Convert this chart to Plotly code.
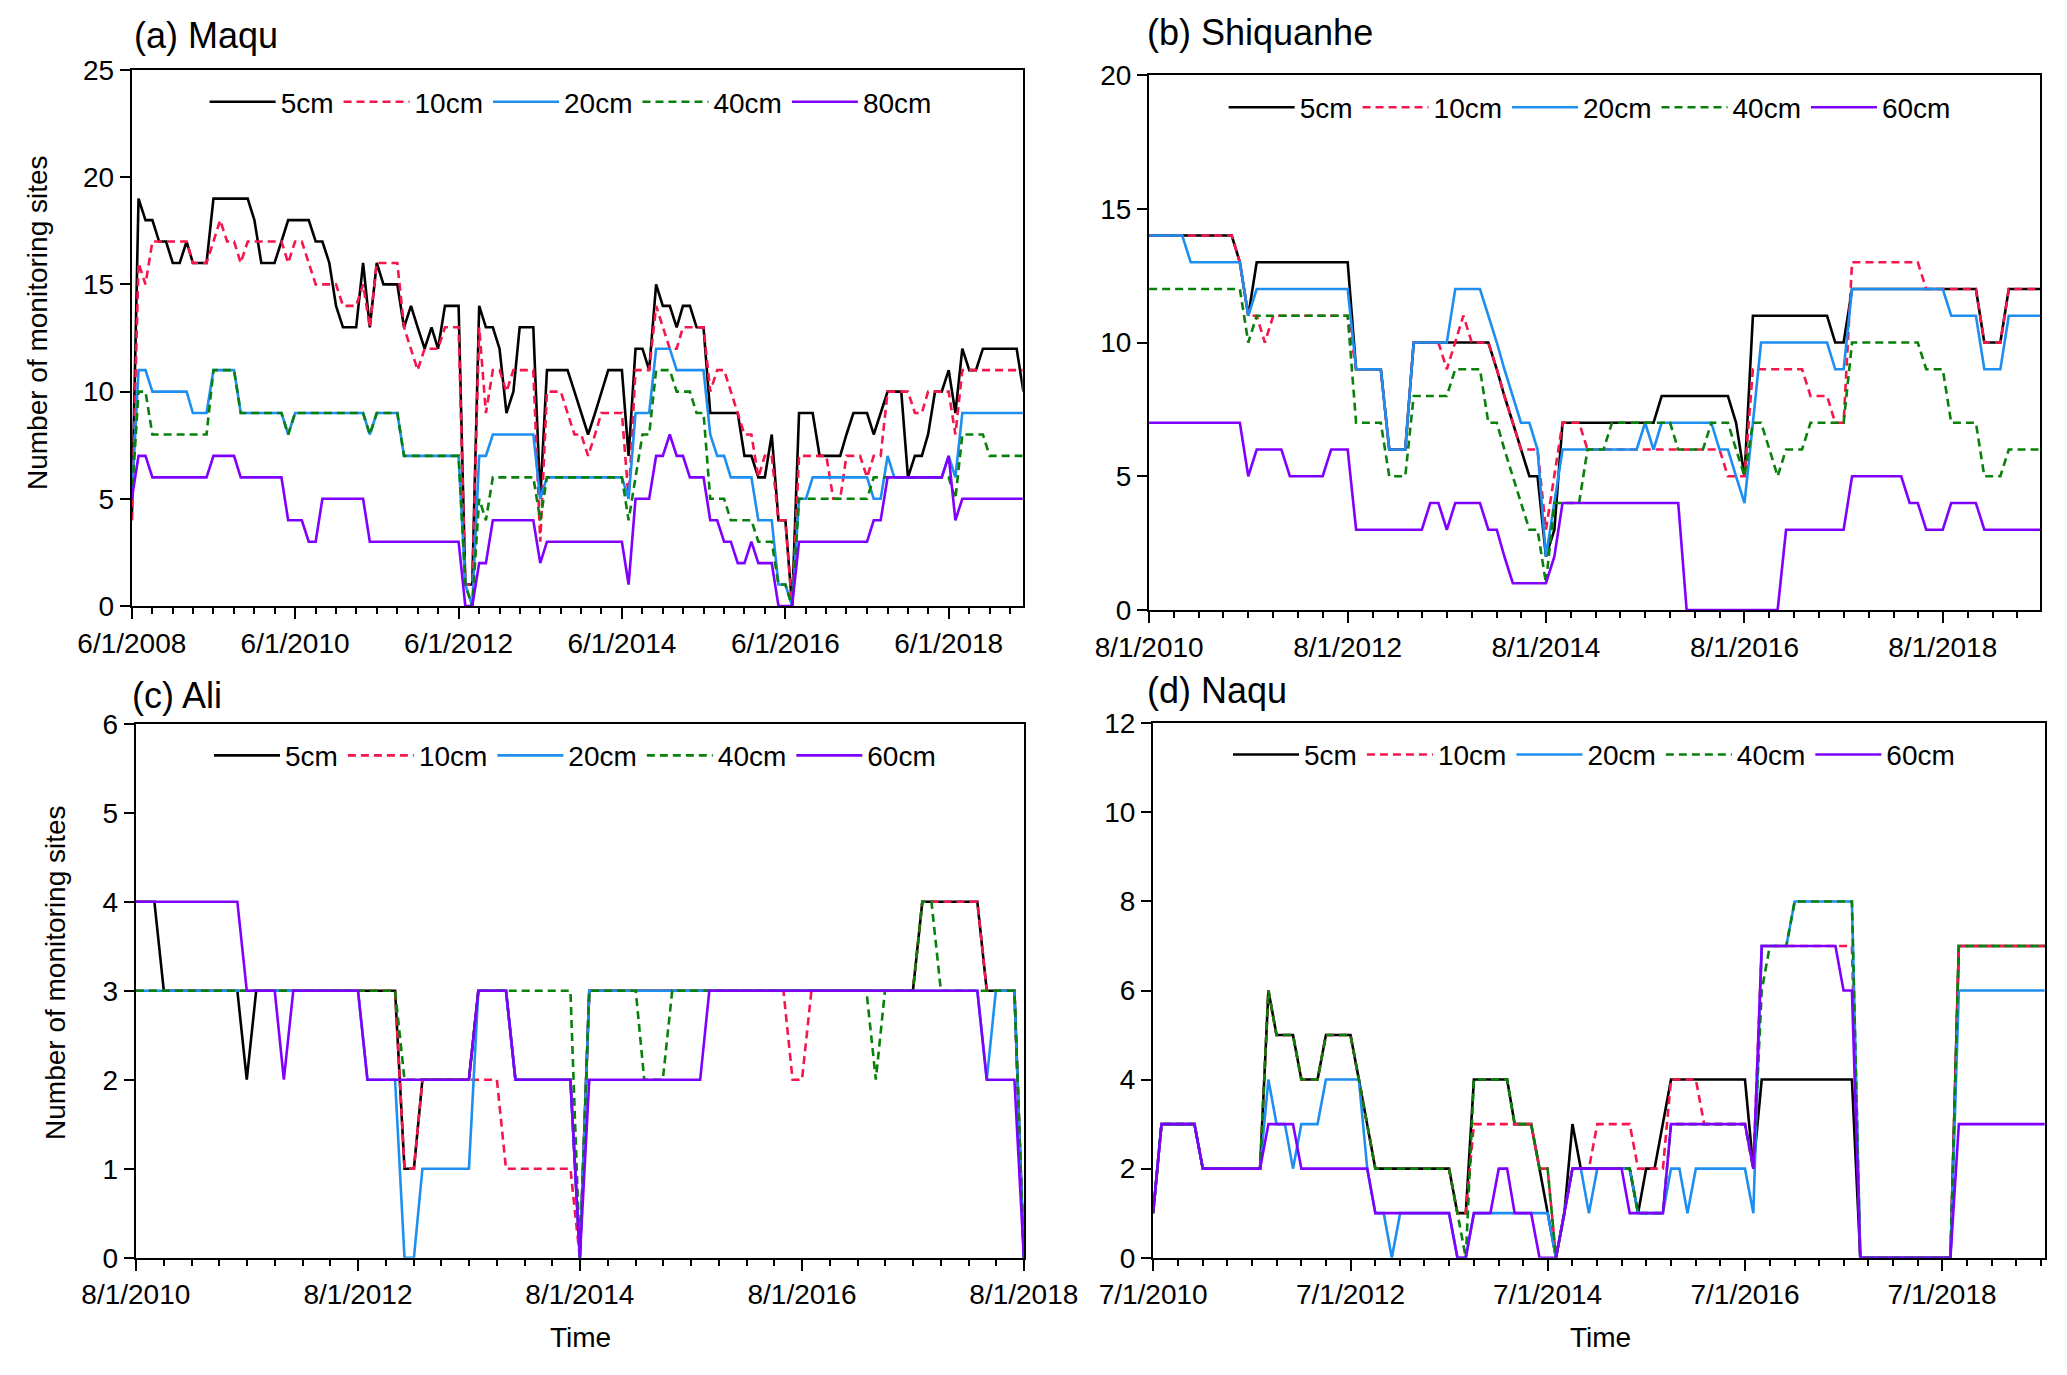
import pandas as pd
import plotly.graph_objects as go

FONT = "Arial, Liberation Sans, sans-serif"

# ---------------- data ----------------
depth_labels_a = ["5cm", "10cm", "20cm", "40cm", "80cm"]
depth_labels_other = ["5cm", "10cm", "20cm", "40cm", "60cm"]

maqu_start = "2008-06-01"
maqu_5cm = [4, 19, 18, 18, 17, 17, 16, 16, 17, 16, 16, 16,
            19, 19, 19, 19, 19, 19, 18, 16, 16, 16, 17, 18,
            18, 18, 18, 17, 17, 16, 14, 13, 13, 13, 16, 13,
            16, 15, 15, 15, 13, 14, 13, 12, 13, 12, 14, 14,
            14, 1, 1, 14, 13, 13, 12, 9, 10, 13, 13, 13,
            5, 11, 11, 11, 11, 10, 9, 8, 9, 10, 11, 11,
            11, 7, 12, 12, 11, 15, 14, 14, 13, 14, 14, 13,
            13, 9, 9, 9, 9, 9, 7, 7, 6, 6, 8, 4,
            4, 0, 9, 9, 9, 7, 7, 7, 7, 8, 9, 9,
            9, 8, 9, 10, 10, 10, 6, 7, 7, 8, 10, 10,
            11, 9, 12, 11, 11, 12, 12, 12, 12, 12, 12, 10]
maqu_10cm = [4, 16, 15, 17, 17, 17, 17, 17, 17, 16, 16, 16,
             17, 18, 17, 17, 16, 17, 17, 17, 17, 17, 17, 16,
             17, 17, 16, 15, 15, 15, 15, 14, 14, 14, 15, 13,
             16, 16, 16, 16, 13, 12, 11, 12, 12, 12, 13, 13,
             13, 1, 1, 13, 9, 11, 11, 10, 11, 11, 11, 11,
             3, 10, 10, 10, 9, 8, 8, 7, 8, 9, 9, 9,
             9, 5, 11, 11, 11, 14, 13, 12, 12, 13, 13, 13,
             13, 10, 11, 11, 10, 9, 8, 8, 6, 7, 7, 4,
             4, 0, 7, 7, 7, 7, 7, 5, 5, 7, 7, 7,
             6, 7, 7, 10, 10, 10, 10, 9, 9, 10, 10, 10,
             10, 8, 11, 11, 11, 11, 11, 11, 11, 11, 11, 11]
maqu_20cm = [5, 11, 11, 10, 10, 10, 10, 10, 10, 9, 9, 9,
             11, 11, 11, 11, 9, 9, 9, 9, 9, 9, 9, 8,
             9, 9, 9, 9, 9, 9, 9, 9, 9, 9, 9, 8,
             9, 9, 9, 9, 7, 7, 7, 7, 7, 7, 7, 7,
             7, 1, 0, 7, 7, 8, 8, 8, 8, 8, 8, 8,
             5, 6, 6, 6, 6, 6, 6, 6, 6, 6, 6, 6,
             6, 5, 9, 9, 9, 12, 12, 12, 11, 11, 11, 11,
             11, 8, 7, 7, 6, 6, 6, 6, 4, 4, 4, 1,
             1, 0, 5, 5, 6, 6, 6, 6, 6, 6, 6, 6,
             6, 5, 5, 7, 6, 6, 6, 6, 6, 6, 6, 6,
             7, 6, 9, 9, 9, 9, 9, 9, 9, 9, 9, 9]
maqu_40cm = [5, 10, 10, 8, 8, 8, 8, 8, 8, 8, 8, 8,
             11, 11, 11, 11, 9, 9, 9, 9, 9, 9, 9, 8,
             9, 9, 9, 9, 9, 9, 9, 9, 9, 9, 9, 8,
             9, 9, 9, 9, 7, 7, 7, 7, 7, 7, 7, 7,
             7, 1, 0, 5, 4, 6, 6, 6, 6, 6, 6, 6,
             4, 6, 6, 6, 6, 6, 6, 6, 6, 6, 6, 6,
             6, 4, 6, 8, 8, 11, 11, 11, 10, 10, 10, 9,
             9, 5, 5, 5, 4, 4, 4, 4, 3, 3, 3, 1,
             1, 0, 5, 5, 5, 5, 5, 5, 5, 5, 5, 5,
             5, 6, 6, 6, 6, 6, 6, 6, 6, 6, 6, 6,
             6, 5, 8, 8, 8, 8, 7, 7, 7, 7, 7, 7]
maqu_80cm = [5, 7, 7, 6, 6, 6, 6, 6, 6, 6, 6, 6,
             7, 7, 7, 7, 6, 6, 6, 6, 6, 6, 6, 4,
             4, 4, 3, 3, 5, 5, 5, 5, 5, 5, 5, 3,
             3, 3, 3, 3, 3, 3, 3, 3, 3, 3, 3, 3,
             3, 0, 0, 2, 2, 4, 4, 4, 4, 4, 4, 4,
             2, 3, 3, 3, 3, 3, 3, 3, 3, 3, 3, 3,
             3, 1, 5, 5, 5, 7, 7, 8, 7, 7, 6, 6,
             6, 4, 4, 3, 3, 2, 2, 3, 2, 2, 2, 0,
             0, 0, 3, 3, 3, 3, 3, 3, 3, 3, 3, 3,
             3, 4, 4, 6, 6, 6, 6, 6, 6, 6, 6, 6,
             7, 4, 5, 5, 5, 5, 5, 5, 5, 5, 5, 5]

shiq_start = "2010-08-01"
shiq_5cm = [14, 14, 14, 14, 14, 14, 14, 14, 14, 14, 14, 13,
            11, 13, 13, 13, 13, 13, 13, 13, 13, 13, 13, 13,
            13, 9, 9, 9, 9, 6, 6, 6, 10, 10, 10, 10,
            10, 10, 10, 10, 10, 10, 9, 8, 7, 6, 5, 5,
            2, 3, 7, 7, 7, 7, 7, 7, 7, 7, 7, 7,
            7, 7, 8, 8, 8, 8, 8, 8, 8, 8, 8, 7,
            5, 11, 11, 11, 11, 11, 11, 11, 11, 11, 11, 10,
            10, 12, 12, 12, 12, 12, 12, 12, 12, 12, 12, 12,
            12, 12, 12, 12, 12, 10, 10, 10, 12, 12, 12, 12,
            12]
shiq_10cm = [14, 14, 14, 14, 14, 14, 14, 14, 14, 14, 14, 13,
             11, 11, 10, 11, 11, 11, 11, 11, 11, 11, 11, 11,
             11, 9, 9, 9, 9, 6, 6, 6, 10, 10, 10, 10,
             9, 10, 11, 10, 10, 10, 9, 8, 7, 6, 6, 6,
             3, 5, 7, 7, 7, 6, 6, 6, 6, 6, 6, 6,
             6, 6, 6, 6, 6, 6, 6, 6, 6, 6, 5, 5,
             5, 9, 9, 9, 9, 9, 9, 9, 8, 8, 8, 7,
             7, 13, 13, 13, 13, 13, 13, 13, 13, 13, 12, 12,
             12, 12, 12, 12, 12, 10, 10, 10, 12, 12, 12, 12,
             12]
shiq_20cm = [14, 14, 14, 14, 14, 13, 13, 13, 13, 13, 13, 13,
             11, 12, 12, 12, 12, 12, 12, 12, 12, 12, 12, 12,
             12, 9, 9, 9, 9, 6, 6, 6, 10, 10, 10, 10,
             10, 12, 12, 12, 12, 11, 10, 9, 8, 7, 7, 6,
             2, 4, 6, 6, 6, 6, 6, 6, 6, 6, 6, 6,
             7, 6, 7, 7, 7, 7, 7, 7, 7, 6, 6, 5,
             4, 7, 10, 10, 10, 10, 10, 10, 10, 10, 10, 9,
             9, 12, 12, 12, 12, 12, 12, 12, 12, 12, 12, 12,
             12, 11, 11, 11, 11, 9, 9, 9, 11, 11, 11, 11,
             11]
shiq_40cm = [12, 12, 12, 12, 12, 12, 12, 12, 12, 12, 12, 12,
             10, 11, 11, 11, 11, 11, 11, 11, 11, 11, 11, 11,
             11, 7, 7, 7, 7, 5, 5, 5, 8, 8, 8, 8,
             8, 9, 9, 9, 9, 7, 7, 6, 5, 4, 3, 3,
             1, 4, 4, 4, 4, 6, 6, 6, 7, 7, 7, 7,
             7, 7, 7, 7, 6, 6, 6, 6, 7, 7, 7, 6,
             5, 7, 7, 6, 5, 6, 6, 6, 7, 7, 7, 7,
             7, 10, 10, 10, 10, 10, 10, 10, 10, 10, 9, 9,
             9, 7, 7, 7, 7, 5, 5, 5, 6, 6, 6, 6,
             6]
shiq_60cm = [7, 7, 7, 7, 7, 7, 7, 7, 7, 7, 7, 7,
             5, 6, 6, 6, 6, 5, 5, 5, 5, 5, 6, 6,
             6, 3, 3, 3, 3, 3, 3, 3, 3, 3, 4, 4,
             3, 4, 4, 4, 4, 3, 3, 2, 1, 1, 1, 1,
             1, 2, 4, 4, 4, 4, 4, 4, 4, 4, 4, 4,
             4, 4, 4, 4, 4, 0, 0, 0, 0, 0, 0, 0,
             0, 0, 0, 0, 0, 3, 3, 3, 3, 3, 3, 3,
             3, 5, 5, 5, 5, 5, 5, 5, 4, 4, 3, 3,
             3, 4, 4, 4, 4, 3, 3, 3, 3, 3, 3, 3,
             3]

ali_start = "2010-08-01"
ali_5cm = [4, 4, 4, 3, 3, 3, 3, 3, 3, 3, 3, 3,
           2, 3, 3, 3, 3, 3, 3, 3, 3, 3, 3, 3,
           3, 3, 3, 3, 3, 1, 1, 2, 2, 2, 2, 2,
           2, 3, 3, 3, 3, 2, 2, 2, 2, 2, 2, 2,
           0, 3, 3, 3, 3, 3, 3, 3, 3, 3, 3, 3,
           3, 3, 3, 3, 3, 3, 3, 3, 3, 3, 3, 3,
           3, 3, 3, 3, 3, 3, 3, 3, 3, 3, 3, 3,
           3, 4, 4, 4, 4, 4, 4, 4, 3, 3, 3, 3,
           0]
ali_10cm = [3, 3, 3, 3, 3, 3, 3, 3, 3, 3, 3, 3,
            3, 3, 3, 3, 3, 3, 3, 3, 3, 3, 3, 3,
            3, 3, 3, 3, 3, 1, 1, 2, 2, 2, 2, 2,
            2, 2, 2, 2, 1, 1, 1, 1, 1, 1, 1, 1,
            0, 3, 3, 3, 3, 3, 3, 3, 3, 3, 3, 3,
            3, 3, 3, 3, 3, 3, 3, 3, 3, 3, 3, 2,
            2, 3, 3, 3, 3, 3, 3, 3, 3, 3, 3, 3,
            3, 4, 4, 4, 4, 4, 4, 4, 3, 3, 3, 3,
            0]
ali_20cm = [3, 3, 3, 3, 3, 3, 3, 3, 3, 3, 3, 3,
            3, 3, 3, 3, 3, 3, 3, 3, 3, 3, 3, 3,
            3, 2, 2, 2, 2, 0, 0, 1, 1, 1, 1, 1,
            1, 3, 3, 3, 3, 2, 2, 2, 2, 2, 2, 2,
            0, 3, 3, 3, 3, 3, 3, 3, 3, 3, 3, 3,
            3, 3, 3, 3, 3, 3, 3, 3, 3, 3, 3, 3,
            3, 3, 3, 3, 3, 3, 3, 3, 3, 3, 3, 3,
            3, 3, 3, 3, 3, 3, 3, 3, 2, 3, 3, 3,
            0]
ali_40cm = [3, 3, 3, 3, 3, 3, 3, 3, 3, 3, 3, 3,
            3, 3, 3, 3, 3, 3, 3, 3, 3, 3, 3, 3,
            3, 3, 3, 3, 3, 2, 2, 2, 2, 2, 2, 2,
            2, 3, 3, 3, 3, 3, 3, 3, 3, 3, 3, 3,
            0, 3, 3, 3, 3, 3, 3, 2, 2, 2, 3, 3,
            3, 3, 3, 3, 3, 3, 3, 3, 3, 3, 3, 3,
            3, 3, 3, 3, 3, 3, 3, 3, 2, 3, 3, 3,
            3, 4, 4, 3, 3, 3, 3, 3, 3, 3, 3, 3,
            0]
ali_60cm = [4, 4, 4, 4, 4, 4, 4, 4, 4, 4, 4, 4,
            3, 3, 3, 3, 2, 3, 3, 3, 3, 3, 3, 3,
            3, 2, 2, 2, 2, 2, 2, 2, 2, 2, 2, 2,
            2, 3, 3, 3, 3, 2, 2, 2, 2, 2, 2, 2,
            0, 2, 2, 2, 2, 2, 2, 2, 2, 2, 2, 2,
            2, 2, 3, 3, 3, 3, 3, 3, 3, 3, 3, 3,
            3, 3, 3, 3, 3, 3, 3, 3, 3, 3, 3, 3,
            3, 3, 3, 3, 3, 3, 3, 3, 2, 2, 2, 2,
            0]

naqu_start = "2010-07-01"
naqu_5cm = [1, 3, 3, 3, 3, 3, 2, 2, 2, 2, 2, 2,
            2, 2, 6, 5, 5, 5, 4, 4, 4, 5, 5, 5,
            5, 4, 3, 2, 2, 2, 2, 2, 2, 2, 2, 2,
            2, 1, 1, 4, 4, 4, 4, 4, 3, 3, 3, 2,
            1, 0, 1, 3, 2, 2, 2, 2, 2, 2, 2, 1,
            2, 2, 3, 4, 4, 4, 4, 4, 4, 4, 4, 4,
            4, 2, 4, 4, 4, 4, 4, 4, 4, 4, 4, 4,
            4, 4, 0, 0, 0, 0, 0, 0, 0, 0, 0, 0,
            0, 0, 7, 7, 7, 7, 7, 7, 7, 7, 7, 7,
            7, 7]
naqu_10cm = [1, 3, 3, 3, 3, 3, 2, 2, 2, 2, 2, 2,
             2, 2, 6, 5, 5, 5, 4, 4, 4, 5, 5, 5,
             5, 4, 3, 2, 2, 2, 2, 2, 2, 2, 2, 2,
             2, 1, 1, 3, 3, 3, 3, 3, 3, 3, 3, 2,
             2, 0, 1, 2, 2, 2, 3, 3, 3, 3, 3, 2,
             2, 2, 2, 4, 4, 4, 4, 3, 3, 3, 3, 3,
             3, 2, 7, 7, 7, 7, 7, 7, 7, 7, 7, 7,
             7, 7, 0, 0, 0, 0, 0, 0, 0, 0, 0, 0,
             0, 0, 7, 7, 7, 7, 7, 7, 7, 7, 7, 7,
             7, 7]
naqu_20cm = [1, 3, 3, 3, 3, 3, 2, 2, 2, 2, 2, 2,
             2, 2, 4, 3, 3, 2, 3, 3, 3, 4, 4, 4,
             4, 4, 2, 1, 1, 0, 1, 1, 1, 1, 1, 1,
             1, 0, 0, 1, 1, 1, 1, 1, 1, 1, 1, 1,
             1, 0, 1, 2, 2, 1, 2, 2, 2, 2, 2, 1,
             1, 1, 1, 2, 2, 1, 2, 2, 2, 2, 2, 2,
             2, 1, 7, 7, 7, 7, 8, 8, 8, 8, 8, 8,
             8, 8, 0, 0, 0, 0, 0, 0, 0, 0, 0, 0,
             0, 0, 6, 6, 6, 6, 6, 6, 6, 6, 6, 6,
             6, 6]
naqu_40cm = [1, 3, 3, 3, 3, 3, 2, 2, 2, 2, 2, 2,
             2, 2, 6, 5, 5, 5, 4, 4, 4, 5, 5, 5,
             5, 4, 3, 2, 2, 2, 2, 2, 2, 2, 2, 2,
             2, 1, 0, 4, 4, 4, 4, 4, 3, 3, 3, 2,
             2, 0, 1, 2, 2, 2, 2, 2, 2, 2, 2, 1,
             1, 1, 1, 3, 3, 3, 3, 3, 3, 3, 3, 3,
             3, 2, 6, 7, 7, 7, 8, 8, 8, 8, 8, 8,
             8, 8, 0, 0, 0, 0, 0, 0, 0, 0, 0, 0,
             0, 0, 7, 7, 7, 7, 7, 7, 7, 7, 7, 7,
             7, 7]
naqu_60cm = [1, 3, 3, 3, 3, 3, 2, 2, 2, 2, 2, 2,
             2, 2, 3, 3, 3, 3, 2, 2, 2, 2, 2, 2,
             2, 2, 2, 1, 1, 1, 1, 1, 1, 1, 1, 1,
             1, 0, 0, 1, 1, 1, 2, 2, 1, 1, 1, 0,
             0, 0, 1, 2, 2, 2, 2, 2, 2, 2, 1, 1,
             1, 1, 1, 3, 3, 3, 3, 3, 3, 3, 3, 3,
             3, 2, 7, 7, 7, 7, 7, 7, 7, 7, 7, 7,
             6, 6, 0, 0, 0, 0, 0, 0, 0, 0, 0, 0,
             0, 0, 3, 3, 3, 3, 3, 3, 3, 3, 3, 3,
             3, 3]

# axis ticks / labels
maqu_tickvals = ["2008-06-01", "2010-06-01", "2012-06-01", "2014-06-01", "2016-06-01", "2018-06-01"]
maqu_ticktext = ["6/1/2008", "6/1/2010", "6/1/2012", "6/1/2014", "6/1/2016", "6/1/2018"]
shiq_tickvals = ["2010-08-01", "2012-08-01", "2014-08-01", "2016-08-01", "2018-08-01"]
shiq_ticktext = ["8/1/2010", "8/1/2012", "8/1/2014", "8/1/2016", "8/1/2018"]
ali_tickvals = ["2010-08-01", "2012-08-01", "2014-08-01", "2016-08-01", "2018-08-01"]
ali_ticktext = ["8/1/2010", "8/1/2012", "8/1/2014", "8/1/2016", "8/1/2018"]
naqu_tickvals = ["2010-07-01", "2012-07-01", "2014-07-01", "2016-07-01", "2018-07-01"]
naqu_ticktext = ["7/1/2010", "7/1/2012", "7/1/2014", "7/1/2016", "7/1/2018"]

panel_titles = ["(a) Maqu", "(b) Shiquanhe", "(c) Ali", "(d) Naqu"]
y_title = "Number of monitoring sites"
x_title = "Time"

# ---------------- styling ----------------
colors = ["#000000", "#F5164B", "#1E8FF0", "#08800A", "#8000FF"]
dashes = ["solid", "8px,5px", "solid", "8px,5px", "solid"]
LW = 2.6

W, H = 2067, 1375
OX = -8.0 / W   # compensate page body offset
OY = 8.0 / H


def sx(v):
    return v + OX


def sy(v):
    return v + OY


panels = [
    dict(start=maqu_start, series=[maqu_5cm, maqu_10cm, maqu_20cm, maqu_40cm, maqu_80cm],
         labels=depth_labels_a, xr=["2008-05-31 12:00", "2019-04-28"], yr=[0, 25], dy=5,
         tv=maqu_tickvals, tt=maqu_ticktext,
         xd=[0.06372, 0.49478], yd=[0.55927, 0.94909], legend="legend",
         leg=(0.0990, 0.9258)),
    dict(start=shiq_start, series=[shiq_5cm, shiq_10cm, shiq_20cm, shiq_40cm, shiq_60cm],
         labels=depth_labels_other, xr=["2010-07-31 12:00", "2019-07-25"], yr=[0, 20], dy=5,
         tv=shiq_tickvals, tt=shiq_ticktext,
         xd=[0.55588, 0.98694], yd=[0.55636, 0.94545], legend="legend2",
         leg=(0.5920, 0.9218)),
    dict(start=ali_start, series=[ali_5cm, ali_10cm, ali_20cm, ali_40cm, ali_60cm],
         labels=depth_labels_other, xr=["2010-07-31 12:00", "2018-08-01 12:00"], yr=[0, 6], dy=1,
         tv=ali_tickvals, tt=ali_ticktext,
         xd=[0.06565, 0.49540], yd=[0.08531, 0.47367], legend="legend3",
         leg=(0.1011, 0.4504)),
    dict(start=naqu_start, series=[naqu_5cm, naqu_10cm, naqu_20cm, naqu_40cm, naqu_60cm],
         labels=depth_labels_other, xr=["2010-06-30 12:00", "2019-07-16"], yr=[0, 12], dy=2,
         tv=naqu_tickvals, tt=naqu_ticktext,
         xd=[0.55781, 0.98921], yd=[0.08531, 0.47396], legend="legend4",
         leg=(0.5941, 0.4511)),
]

fig = go.Figure()
layout = dict(
    width=W, height=H,
    margin=dict(l=0, r=0, t=0, b=0, autoexpand=False),
    paper_bgcolor="white", plot_bgcolor="white",
    font=dict(family=FONT, size=28, color="black"),
    annotations=[],
)

for i, p in enumerate(panels):
    n = i + 1
    xa = "x" if n == 1 else f"x{n}"
    ya = "y" if n == 1 else f"y{n}"
    for s, lab, col, dsh in zip(p["series"], p["labels"], colors, dashes):
        dates = pd.date_range(p["start"], periods=len(s), freq="MS")
        fig.add_trace(go.Scatter(
            x=dates, y=s, mode="lines", name=lab,
            line=dict(color=col, width=LW, dash=dsh),
            xaxis=xa, yaxis=ya, legend=p["legend"],
        ))
    xkey = "xaxis" if n == 1 else f"xaxis{n}"
    ykey = "yaxis" if n == 1 else f"yaxis{n}"
    layout[xkey] = dict(
        domain=[sx(p["xd"][0]), sx(p["xd"][1])], anchor=ya, type="date", range=p["xr"],
        automargin=False,
        tickmode="array", tickvals=p["tv"], ticktext=p["tt"],
        ticks="outside", ticklen=11, tickwidth=2, tickcolor="black",
        minor=dict(dtick="M3", tick0=p["start"], ticks="outside", ticklen=6,
                   tickwidth=1.5, tickcolor="black", showgrid=False),
        showline=True, linecolor="black", linewidth=2, mirror=True,
        showgrid=False, zeroline=False,
        tickfont=dict(family=FONT, size=28, color="black"),
    )
    layout[ykey] = dict(
        domain=[sy(p["yd"][0]), sy(p["yd"][1])], anchor=xa, range=p["yr"], dtick=p["dy"],
        tick0=0, automargin=False,
        ticks="outside", ticklen=10, tickwidth=2, tickcolor="black",
        showline=True, linecolor="black", linewidth=2, mirror=True,
        showgrid=False, zeroline=False,
        tickfont=dict(family=FONT, size=28, color="black"),
    )
    layout[p["legend"]] = dict(
        orientation="h", x=sx(p["leg"][0]), y=sy(p["leg"][1]), xanchor="left", yanchor="middle",
        bgcolor="rgba(0,0,0,0)", borderwidth=0, itemwidth=66,
        font=dict(family=FONT, size=28, color="black"),
    )

title_pos = [(0.0639, 0.9745), (0.5540, 0.9764), (0.0629, 0.4945), (0.5540, 0.4975)]
for t, (tx, ty) in zip(panel_titles, title_pos):
    layout["annotations"].append(dict(
        text=t, x=sx(tx), y=sy(ty), xref="paper", yref="paper", xanchor="left", yanchor="middle",
        showarrow=False, font=dict(family=FONT, size=36, color="black")))

for (tx, ty) in [(0.0184, 0.7651), (0.0271, 0.2924)]:
    layout["annotations"].append(dict(
        text=y_title, x=sx(tx), y=sy(ty), xref="paper", yref="paper", xanchor="center",
        yanchor="middle", textangle=-90, showarrow=False,
        font=dict(family=FONT, size=28, color="black")))

for tx in [0.2806, 0.7741]:
    layout["annotations"].append(dict(
        text=x_title, x=sx(tx), y=sy(0.0273), xref="paper", yref="paper", xanchor="center",
        yanchor="middle", showarrow=False, font=dict(family=FONT, size=28, color="black")))

fig.update_layout(**layout)
fig.write_html("out.html")
